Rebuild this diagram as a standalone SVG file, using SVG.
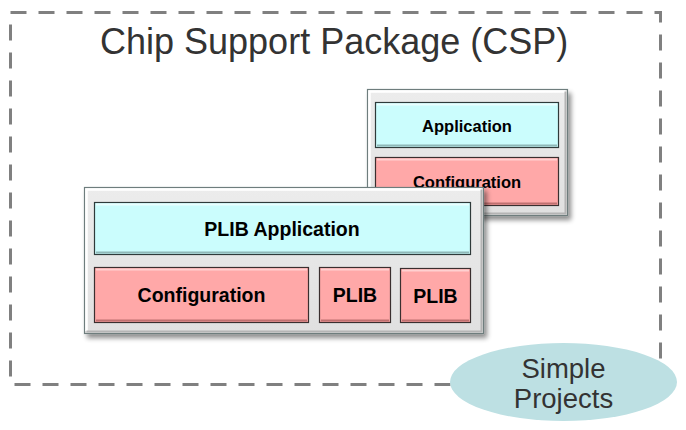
<svg xmlns="http://www.w3.org/2000/svg" width="686" height="430" viewBox="0 0 686 430">
<defs>
<filter id="sh" x="-10%" y="-10%" width="130%" height="140%">
<feGaussianBlur in="SourceAlpha" stdDeviation="2.5"/>
<feOffset dx="3" dy="4" result="b"/>
<feComponentTransfer><feFuncA type="linear" slope="0.45"/></feComponentTransfer>
<feMerge><feMergeNode/><feMergeNode in="SourceGraphic"/></feMerge>
</filter>
<linearGradient id="frameG" x1="0" y1="0" x2="0" y2="1">
<stop offset="0" stop-color="#ececec"/>
<stop offset="1" stop-color="#e0e0e0"/>
</linearGradient>
</defs>
<style>
.frame{fill:url(#frameG);stroke:#6e7d7d;stroke-width:1.2}
.hl{fill:none;stroke:#ffffff;stroke-width:2.5}
.dk{fill:none;stroke:#b4b4b4;stroke-width:2}
.cy{fill:#cbfdfd;stroke:#2f3a3a;stroke-width:1.2}
.pk{fill:#ffa8a8;stroke:#3a2f2f;stroke-width:1.2}
.cyh{fill:none;stroke:#eaffff;stroke-width:2}
.pkh{fill:none;stroke:#ffd0d0;stroke-width:2}
.cyd{fill:none;stroke:#8fb8b8;stroke-width:2}
.pkd{fill:none;stroke:#c07070;stroke-width:2}
.lbl{font-family:"Liberation Sans",Arial,sans-serif;font-weight:bold;fill:#000;text-anchor:middle}
.big{font-family:"Liberation Sans",Arial,sans-serif;fill:#333;}
</style>
<rect id="csp-border" x="10.5" y="12.5" width="650" height="372" fill="none" stroke="#808080" stroke-width="3" stroke-dasharray="16 12"/>
<text class="big" x="100" y="54" font-size="36">Chip Support Package (CSP)</text>

<g id="simple-box">
<g filter="url(#sh)">
<rect class="frame" x="367.5" y="89.5" width="200" height="126"/>
</g>
<path class="hl" d="M369.5,213 V91.5 H565.5"/>
<path class="dk" d="M369.5,213.5 H565.5 V91.5"/>
<g id="app">
<rect class="cy" x="375.5" y="102.5" width="183" height="45"/>
<path class="cyh" d="M377,104.5 H557"/>
<path class="cyd" d="M377,145.5 H557"/>
<text class="lbl" x="467" y="132" font-size="16.5">Application</text>
</g>
<g id="config-small">
<rect class="pk" x="375.5" y="157.5" width="183" height="48"/>
<path class="pkh" d="M377,159.5 H557"/>
<path class="pkd" d="M377,203.5 H557"/>
<text class="lbl" x="467" y="188" font-size="16.5">Configuration</text>
</g>
</g>

<g id="plib-box">
<g filter="url(#sh)">
<rect class="frame" x="84.5" y="187.5" width="399" height="146"/>
</g>
<path class="hl" d="M86.5,331 V189.5 H481.5"/>
<path class="dk" d="M86.5,331.5 H481.5 V189.5"/>
<g id="plib-app">
<rect class="cy" x="94.5" y="202.5" width="376" height="52"/>
<path class="cyh" d="M96,204.5 H469"/>
<path class="cyd" d="M96,252.5 H469"/>
<text class="lbl" x="282" y="236" font-size="19.5">PLIB Application</text>
</g>
<g id="config">
<rect class="pk" x="94.5" y="267.5" width="214" height="55"/>
<path class="pkh" d="M96,269.5 H307"/>
<path class="pkd" d="M96,320.5 H307"/>
<text class="lbl" x="201.5" y="302" font-size="19.5">Configuration</text>
</g>
<g id="plib1">
<rect class="pk" x="319.5" y="267.5" width="71" height="55"/>
<path class="pkh" d="M321,269.5 H389"/>
<path class="pkd" d="M321,320.5 H389"/>
<text class="lbl" x="355" y="302" font-size="19.5">PLIB</text>
</g>
<g id="plib2">
<rect class="pk" x="400.5" y="268.5" width="70" height="54"/>
<path class="pkh" d="M402,270.5 H469"/>
<path class="pkd" d="M402,320.5 H469"/>
<text class="lbl" x="435.5" y="303" font-size="19.5">PLIB</text>
</g>
</g>

<g id="simple-projects">
<ellipse cx="563.5" cy="382" rx="113.5" ry="39" fill="#bde0e3"/>
<text class="big" x="563.5" y="378" font-size="27.5" text-anchor="middle">Simple</text>
<text class="big" x="563.5" y="408" font-size="27.5" text-anchor="middle">Projects</text>
</g>
<g id="connectors"/>
</svg>
